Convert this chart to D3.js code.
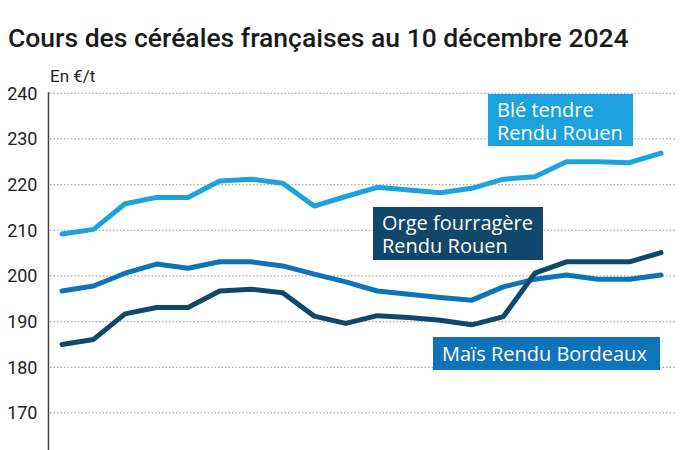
<!DOCTYPE html>
<html>
<head>
<meta charset="utf-8">
<script src="https://cdn.jsdelivr.net/npm/d3@7"></script>
<style>
  html, body { margin: 0; padding: 0; background: #fff; }
  svg { display: block; font-family: Roboto, "Noto Sans", sans-serif; }
</style>
</head>
<body>
<svg id="chart" width="700" height="450"></svg>
<script>
const title = "Cours des céréales françaises au 10 décembre 2024";
const unitLabel = "En €/t";
const yTicks = [170, 180, 190, 200, 210, 220, 230, 240];
const dates = d3.range(20); // 20 weekly observations (index)

const ble  = [209.2, 210.2, 215.8, 217.2, 217.2, 220.8, 221.2, 220.3, 215.3, 217.4,
              219.4, 218.8, 218.2, 219.2, 221.2, 221.7, 225.0, 225.0, 224.8, 226.9];
const mais = [196.7, 197.8, 200.6, 202.6, 201.7, 203.1, 203.1, 202.2, 200.4, 198.7,
              196.7, 196.0, 195.3, 194.7, 197.6, 199.3, 200.2, 199.3, 199.3, 200.2];
const orge = [185.0, 186.1, 191.7, 193.1, 193.1, 196.7, 197.1, 196.3, 191.2, 189.6,
              191.3, 190.9, 190.3, 189.3, 191.1, 200.6, 203.1, 203.1, 203.1, 205.1];

const seriesNames = ["Blé tendre\nRendu Rouen", "Maïs Rendu Bordeaux", "Orge fourragère\nRendu Rouen"];
const seriesColors = ["#1ca3dd", "#0f73b9", "#11476a"];

const series = [
  { name: seriesNames[0], color: seriesColors[0], values: ble,  label: { x: 488, y: 94,  w: 145, h: 52 } },
  { name: seriesNames[1], color: seriesColors[1], values: mais, label: { x: 433, y: 337, w: 227, h: 33 } },
  { name: seriesNames[2], color: seriesColors[2], values: orge, label: { x: 373, y: 207, w: 170, h: 53 } }
];

const svg = d3.select("#chart");

const x = d3.scalePoint().domain(dates).range([62, 661]);
const y = d3.scaleLinear().domain([160, 240]).range([458.6, 93.3]);

// title
svg.append("text")
  .attr("x", 8).attr("y", 47)
  .attr("font-size", 26.5).attr("font-weight", 500).attr("fill", "#1a1a1a")
  .text(title);

// unit
svg.append("text")
  .attr("x", 50).attr("y", 82)
  .attr("font-size", 17).attr("fill", "#222")
  .text(unitLabel);

// grid lines
svg.append("g").selectAll("line")
  .data(yTicks).join("line")
  .attr("x1", 50).attr("x2", 676)
  .attr("y1", d => y(d)).attr("y2", d => y(d))
  .attr("stroke", "#a8a8a8").attr("stroke-width", 1.2)
  .attr("stroke-dasharray", "1.5,2");

// y axis
const yAxis = d3.axisLeft(y).tickValues(yTicks).tickSize(0).tickPadding(11);
const gy = svg.append("g").attr("transform", "translate(48.5,0)").call(yAxis);
gy.select(".domain").remove();
gy.selectAll("text").attr("font-size", 18).attr("fill", "#222")
  .attr("font-family", "Roboto, sans-serif");
svg.append("line")
  .attr("x1", 48.5).attr("x2", 48.5).attr("y1", 92).attr("y2", 450)
  .attr("stroke", "#444").attr("stroke-width", 1.5);

// lines
const line = d3.line().x((d, i) => x(dates[i])).y(d => y(d));
svg.append("g").selectAll("path")
  .data(series).join("path")
  .attr("d", d => line(d.values))
  .attr("fill", "none")
  .attr("stroke", d => d.color)
  .attr("stroke-width", 5)
  .attr("stroke-linejoin", "round")
  .attr("stroke-linecap", "round");

// labels
const lg = svg.append("g").selectAll("g").data(series).join("g");
lg.append("rect")
  .attr("x", d => d.label.x).attr("y", d => d.label.y)
  .attr("width", d => d.label.w).attr("height", d => d.label.h)
  .attr("fill", d => d.color);
lg.each(function(d) {
  const g = d3.select(this);
  const lines = d.name.split("\n");
  lines.forEach((s, i) => {
    g.append("text")
      .attr("font-size", 20).attr("fill", "#fff")
      .attr("font-family", "'Open Sans', 'Noto Sans', sans-serif")
      .attr("x", d.label.x + 9)
      .attr("y", d.label.y + (lines.length === 1 ? 24 : 22.5 + i * 23))
      .text(s);
  });
});
</script>
</body>
</html>
